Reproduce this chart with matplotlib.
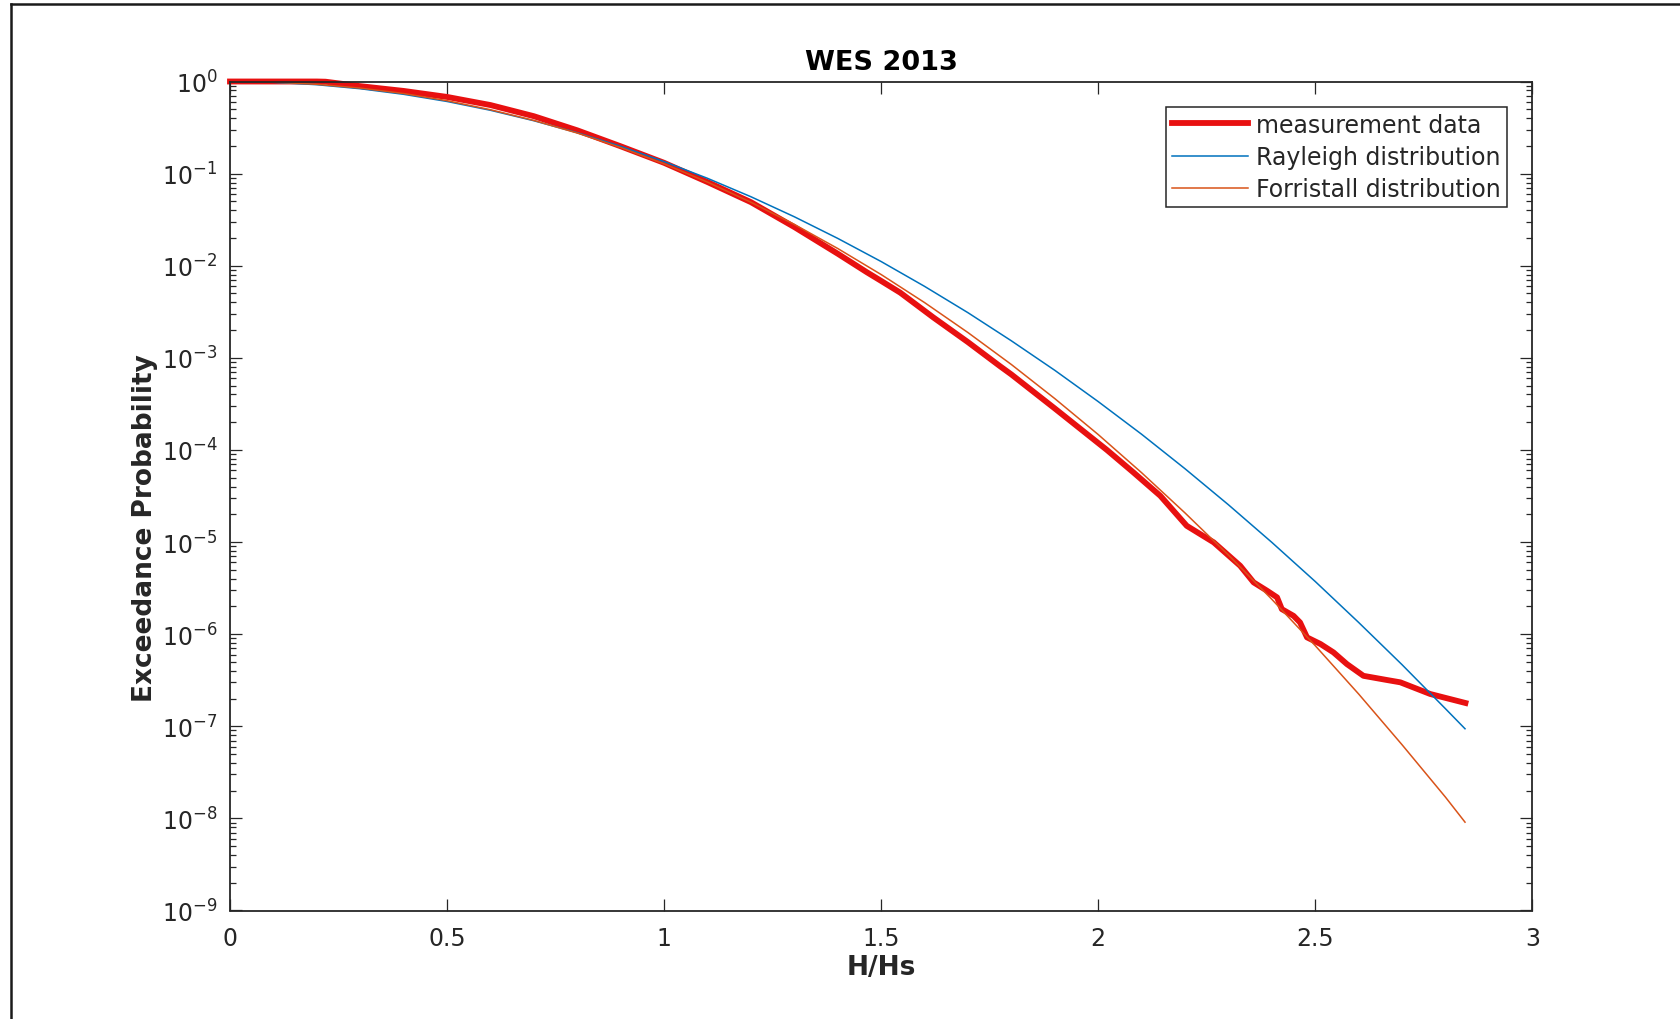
import numpy as np
import matplotlib
matplotlib.use("Agg")
import matplotlib.pyplot as plt
from matplotlib.ticker import LogLocator, FixedLocator, NullFormatter
from matplotlib.lines import Line2D

plt.rcParams['font.family'] = ['DejaVu Sans']
plt.rcParams['axes.unicode_minus'] = False

# ---------------- data ----------------
h_meas = [0.0, 0.1, 0.2, 0.22, 0.3, 0.4, 0.5, 0.6, 0.7, 0.8, 0.9, 1.0, 1.1, 1.2,
          1.3, 1.4, 1.467, 1.5, 1.544, 1.62, 1.7, 1.774, 1.8, 1.9, 2.02, 2.081, 2.143,
          2.204, 2.266, 2.327, 2.358, 2.389, 2.412, 2.423, 2.45, 2.465, 2.481,
          2.512, 2.542, 2.573, 2.611, 2.665, 2.696, 2.765, 2.846]
p_meas = [1.0, 1.0, 1.0, 0.995, 0.89, 0.79, 0.68, 0.555, 0.42, 0.295, 0.198, 0.131,
          0.081, 0.049, 0.0263, 0.0135, 8.5e-3, 6.84e-3, 5.1e-3, 2.75e-3, 1.48e-3, 8.1e-4,
          6.6e-4, 2.82e-4, 1.0e-4, 5.71e-5, 3.18e-5, 1.50e-5, 9.93e-6, 5.53e-6,
          3.65e-6, 2.96e-6, 2.51e-6, 1.87e-6, 1.58e-6, 1.34e-6, 9.23e-7, 7.82e-7,
          6.34e-7, 4.73e-7, 3.53e-7, 3.18e-7, 3.00e-7, 2.24e-7, 1.79e-7]

h_model = [0.0, 0.1, 0.2, 0.3, 0.4, 0.5, 0.6, 0.7, 0.8, 0.9, 1.0, 1.1, 1.2, 1.3,
           1.4, 1.5, 1.6, 1.7, 1.8, 1.9, 2.0, 2.1, 2.2, 2.3, 2.4, 2.5, 2.6, 2.7,
           2.8, 2.845]
p_rayleigh = [1.0, 0.980, 0.923, 0.835, 0.726, 0.607, 0.487, 0.375, 0.278, 0.198,
              0.135, 0.0889, 0.0561, 0.0340, 0.0198, 0.0111, 5.97e-3, 3.09e-3,
              1.53e-3, 7.32e-4, 3.35e-4, 1.48e-4, 6.25e-5, 2.54e-5, 9.92e-6,
              3.73e-6, 1.34e-6, 4.66e-7, 1.55e-7, 9.4e-8]
p_forristall = [1.0, 0.984, 0.932, 0.848, 0.740, 0.619, 0.494, 0.378, 0.2756,
                0.192, 0.1276, 0.0808, 0.0489, 0.0281, 0.01538, 8.02e-3, 3.98e-3,
                1.88e-3, 8.46e-4, 3.61e-4, 1.47e-4, 5.66e-5, 2.07e-5, 7.23e-6,
                2.39e-6, 7.50e-7, 2.24e-7, 6.30e-8, 1.70e-8, 9.1e-9]

x_ticks = [0, 0.5, 1, 1.5, 2, 2.5, 3]
x_tick_labels = ['0', '0.5', '1', '1.5', '2', '2.5', '3']
series_labels = ['measurement data', 'Rayleigh distribution', 'Forristall distribution']
title = 'WES 2013'
xlabel = 'H/Hs'
ylabel = 'Exceedance Probability'

# ---------------- figure ----------------
W, H = 1681, 1020
fig = plt.figure(figsize=(W / 100, H / 100), dpi=100)
fig.patch.set_facecolor('white')

# outer frame (top and left edges visible)
fig.add_artist(Line2D([11 / W, 11 / W], [0, 1 - 5 / H], transform=fig.transFigure,
                      color='#1a1a1a', lw=1.8))
fig.add_artist(Line2D([11 / W, 1], [1 - 5 / H, 1 - 5 / H], transform=fig.transFigure,
                      color='#1a1a1a', lw=1.8))

ax_l, ax_r, ax_t, ax_b = 230, 1532.3, 82.5, 911.5
ax = fig.add_axes([ax_l / W, 1 - ax_b / H, (ax_r - ax_l) / W, (ax_b - ax_t) / H])

ax.plot(h_meas, p_meas, color='#e81010', lw=4.2, label=series_labels[0],
        clip_on=False, solid_joinstyle='round')
ax.plot(h_model, p_rayleigh, color='#0072BD', lw=1.1, label=series_labels[1])
ax.plot(h_model, p_forristall, color='#D95319', lw=1.1, label=series_labels[2])

ax.set_yscale('log')
ax.set_xlim(0, 3)
ax.set_ylim(1e-9, 1)

ax.xaxis.set_major_locator(FixedLocator(x_ticks))
ax.set_xticklabels(x_tick_labels)
ax.yaxis.set_major_locator(LogLocator(base=10, numticks=20))
ax.yaxis.set_minor_locator(LogLocator(base=10, subs=np.arange(2, 10), numticks=200))
ax.yaxis.set_minor_formatter(NullFormatter())

axcol = '#262626'
for s in ax.spines.values():
    s.set_color(axcol)
    s.set_linewidth(1.3)

ax.tick_params(which='both', direction='in', top=True, right=True,
               color=axcol, labelcolor=axcol, width=0.9)
ax.tick_params(which='major', length=8.5, labelsize=17)
ax.tick_params(which='minor', length=4.3)
ax.tick_params(axis='x', which='major', pad=11)
ax.tick_params(axis='y', which='major', pad=9)

ax.set_title(title, fontsize=19.5, fontweight='bold', color='black', pad=9)
ax.set_xlabel(xlabel, fontsize=19, fontweight='bold', color=axcol)
ax.set_ylabel(ylabel, fontsize=19, fontweight='bold', color=axcol)
ax.xaxis.set_label_coords(0.5, -0.0525)
ax.yaxis.set_label_coords(-0.055, 0.463)

leg = ax.legend(loc='upper right',
                bbox_to_anchor=((1506.8 - ax_l) / (ax_r - ax_l), 1 - (107.7 - ax_t) / (ax_b - ax_t)),
                borderaxespad=0, fontsize=17, frameon=True, fancybox=False,
                edgecolor=axcol, framealpha=1, handlelength=3.2, handletextpad=0.35,
                borderpad=0.25, labelspacing=0.35)
leg.get_frame().set_linewidth(1.1)
for t in leg.get_texts():
    t.set_color(axcol)

fig.savefig('out.png', dpi=100, facecolor='white')
